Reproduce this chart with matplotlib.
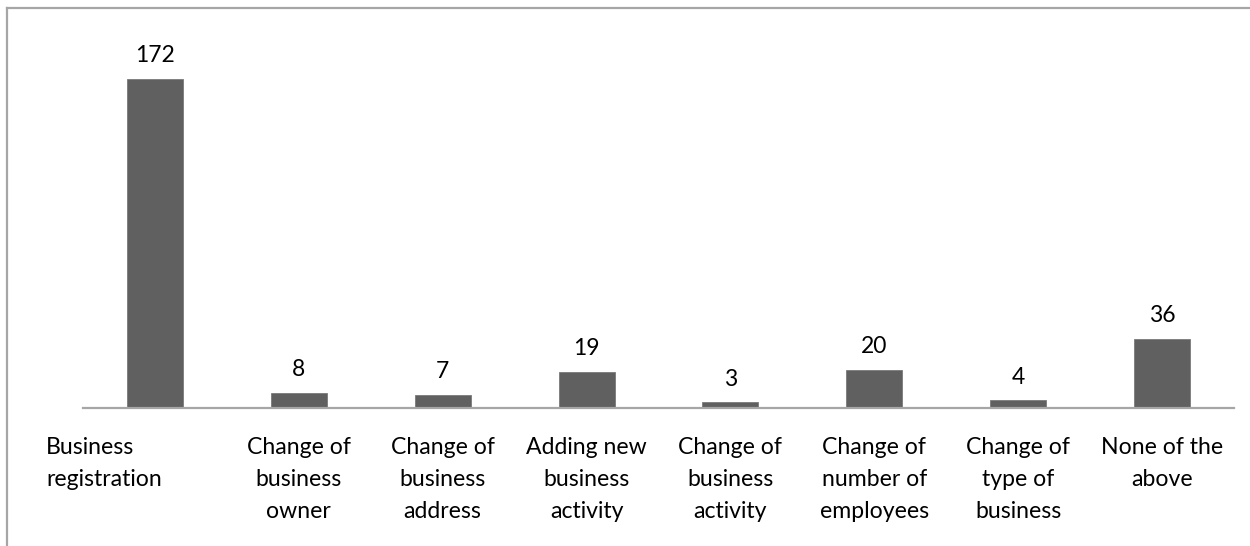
import matplotlib.pyplot as plt
from matplotlib.lines import Line2D
from matplotlib.transforms import blended_transform_factory

categories = [
    "Business\nregistration",
    "Change of\nbusiness\nowner",
    "Change of\nbusiness\naddress",
    "Adding new\nbusiness\nactivity",
    "Change of\nbusiness\nactivity",
    "Change of\nnumber of\nemployees",
    "Change of\ntype of\nbusiness",
    "None of the\nabove",
]
counts = [172, 8, 7, 19, 3, 20, 4, 36]

BAR_COLOR = "#606060"
LINE_COLOR = "#a6a6a6"
FONT = ["Lato", "DejaVu Sans"]

plt.rcParams["font.family"] = FONT

W, H = 1250, 546
fig = plt.figure(figsize=(W / 100, H / 100), dpi=100)
ax = fig.add_axes([83 / W, (H - 408) / H, (1234 - 83) / W, (408 - 20) / H])

x = list(range(len(categories)))
ax.bar(x, counts, width=0.39, color=BAR_COLOR, edgecolor="#7a7a7a", linewidth=0.6, zorder=2)
ax.set_xlim(-0.5, len(categories) - 0.5)
ax.set_ylim(0, 202.8)

for side in ["top", "right", "left"]:
    ax.spines[side].set_visible(False)
ax.spines["bottom"].set_color(LINE_COLOR)
ax.spines["bottom"].set_linewidth(1.6)
ax.set_yticks([])
ax.set_xticks([])

# value labels above each bar
for xi, v in zip(x, counts):
    ax.annotate(str(v), (xi, v), xytext=(0, 12), textcoords="offset points",
                ha="center", va="baseline", fontsize=16.5, color="black")

# category labels under the axis
trans = blended_transform_factory(ax.transData, ax.transAxes)
for xi, label in zip(x, categories):
    if xi == 0:
        ax.text(xi - 0.757, -0.075, label, transform=trans, ha="left", va="top",
                multialignment="left", fontsize=16.6, linespacing=1.64)
    else:
        ax.text(xi, -0.075, label, transform=trans, ha="center", va="top",
                multialignment="center", fontsize=16.6, linespacing=1.64)

# outer frame of the chart area
fig.add_artist(Line2D([6.5 / W, 6.5 / W], [0, (H - 7.5) / H], color=LINE_COLOR, lw=1.6))
fig.add_artist(Line2D([6.5 / W, 1], [(H - 7.5) / H, (H - 7.5) / H], color=LINE_COLOR, lw=1.6))

fig.savefig("out.png", dpi=100)
